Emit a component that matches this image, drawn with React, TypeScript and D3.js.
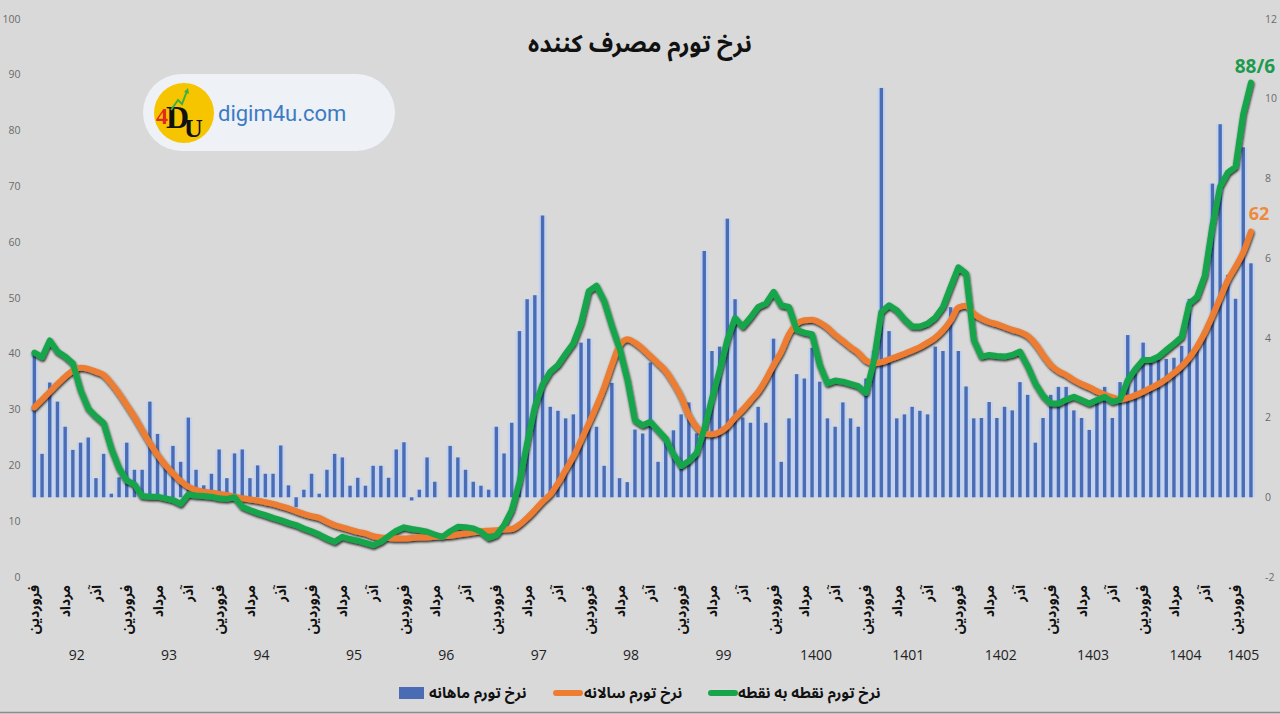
import * as d3 from 'd3';

// Monthly CPI inflation (%), right axis
const monthly = [
  3.6, 1.09, 2.88, 2.4, 1.77, 1.19, 1.37, 1.5, 0.48, 1.09, 0.09, 0.5,
  1.37, 0.69, 0.69, 2.4, 1.59, 0.8, 1.29, 0.89, 2.0, 0.69, 0.3, 0.59,
  1.2, 0.48, 1.1, 1.2, 0.48, 0.8, 0.59, 0.59, 1.3, 0.3, -0.25, 0.19,
  0.59, 0.09, 0.69, 1.09, 1.0, 0.29, 0.49, 0.29, 0.79, 0.79, 0.49, 1.2,
  1.38, -0.08, 0.19, 1.0, 0.39, 0.0, 1.29, 1.0, 0.69, 0.39, 0.29, 0.19,
  1.77, 1.1, 1.87, 4.17, 4.97, 5.07, 7.07, 2.27, 2.17, 1.98, 2.08, 3.88,
  3.98, 1.77, 0.79, 2.87, 0.48, 0.38, 1.7, 1.6, 3.38, 0.89, 1.5, 1.68,
  2.08, 2.38, 1.6, 6.18, 3.67, 3.78, 6.99, 4.97, 2.0, 1.87, 2.27, 1.87,
  3.98, 0.89, 1.98, 3.09, 2.98, 3.75, 2.9, 1.98, 1.77, 2.38, 1.98, 1.77,
  2.98, 3.67, 10.27, 4.17, 1.98, 2.08, 2.27, 2.17, 2.08, 3.78, 3.67, 4.77,
  3.67, 2.78, 1.98, 1.99, 2.39, 1.99, 2.27, 2.18, 2.89, 2.57, 1.37, 1.99,
  2.57, 2.77, 2.77, 2.18, 1.99, 1.69, 2.4, 2.77, 1.99, 2.89, 4.07, 3.1,
  3.88, 3.4, 3.45, 3.47, 3.5, 3.8, 4.98, 3.7, 4.18, 7.87, 9.36, 5.58,
  4.98, 8.78, 5.87,
];

// Annual inflation (%), left axis
const annual = [
  30.4, 31.8, 33.2, 34.6, 35.9, 37.0, 37.5, 37.3, 36.8, 36.2, 34.7, 32.9,
  30.8, 28.7, 26.3, 24.0, 21.9, 20.1, 18.6, 17.2, 16.2, 15.6, 15.3, 15.1,
  14.9, 14.7, 14.4, 14.1, 13.9, 13.7, 13.4, 13.1, 12.7, 12.3, 11.8, 11.3,
  10.9, 10.6, 9.9, 9.3, 8.9, 8.5, 8.1, 7.8, 7.3, 7.1, 7.0, 6.9,
  6.9, 7.0, 7.1, 7.1, 7.2, 7.3, 7.4, 7.6, 7.8, 8.0, 8.2, 8.3,
  8.4, 8.5, 8.6, 9.4, 10.6, 12.0, 13.5, 14.8, 16.8, 19.2, 21.6, 24.5,
  27.5, 30.6, 34.0, 38.0, 41.5, 42.6, 42.0, 40.9, 39.6, 38.3, 36.9, 34.8,
  32.3, 29.0, 26.9, 25.7, 25.6, 26.0, 27.0, 28.6, 30.0, 31.6, 33.2, 35.4,
  38.0, 40.4, 43.5, 45.4, 46.0, 46.1, 45.6, 44.7, 43.4, 42.3, 41.2, 40.2,
  38.8, 38.3, 38.5, 39.0, 39.5, 40.0, 40.6, 41.2, 42.0, 42.9, 44.2, 46.0,
  48.3, 48.6, 47.2, 46.3, 45.7, 45.3, 44.8, 44.3, 43.9, 43.2, 41.8, 39.8,
  38.0, 36.9, 36.2, 35.3, 34.6, 34.0, 33.3, 32.7, 32.2, 31.8, 32.1, 32.6,
  33.2, 33.9, 34.6, 35.5, 36.6, 37.8, 39.3, 41.3, 43.8, 46.8, 50.0, 53.2,
  55.6, 58.2, 61.9,
];

// Point-to-point inflation (%), left axis
const pointToPoint = [
  40.2, 39.4, 42.4, 40.4, 39.5, 38.3, 33.5, 30.2, 28.8, 27.6, 23.0, 19.5,
  17.3, 16.6, 14.5, 14.4, 14.4, 14.1, 13.8, 13.1, 14.8, 14.6, 14.5, 14.4,
  14.1, 14.0, 14.3, 12.6, 12.0, 11.5, 11.1, 10.6, 10.2, 9.7, 9.3, 8.7,
  8.2, 7.6, 6.9, 6.3, 7.2, 6.8, 6.5, 6.1, 5.7, 6.3, 7.3, 8.3,
  8.9, 8.6, 8.4, 8.1, 7.6, 7.2, 8.2, 9.0, 8.9, 8.7, 8.1, 7.0,
  7.5, 9.3, 12.0, 17.0, 24.0, 30.5, 34.5, 36.8, 38.0, 40.0, 41.9, 45.5,
  51.2, 52.2, 49.5, 45.0, 41.0, 35.5, 28.1, 27.2, 27.8, 26.3, 24.8, 22.0,
  19.9, 20.8, 22.2, 26.5, 32.0, 37.0, 42.5, 46.4, 44.9, 46.5, 48.4, 49.0,
  51.1, 48.7, 48.4, 44.3, 43.8, 43.5, 38.0, 34.7, 35.2, 35.0, 34.6, 34.2,
  33.0, 38.5, 47.5, 48.7, 47.8, 46.2, 44.9, 44.9, 45.4, 46.5, 48.4, 52.0,
  55.5, 54.4, 42.5, 39.5, 39.8, 39.6, 39.5, 39.8, 40.4, 37.8, 34.7, 32.5,
  31.1, 31.1, 31.8, 32.3, 31.7, 31.1, 31.7, 32.3, 31.4, 31.8, 35.3, 37.3,
  38.9, 38.9, 39.5, 40.7, 41.8, 43.0, 49.0, 50.2, 54.0, 63.0, 70.0, 72.5,
  73.5, 83.0, 88.6,
];

const yearLabels = ['92', '93', '94', '95', '96', '97', '98', '99', '1400', '1401', '1402', '1403', '1404', '1405'];
const monthLabels: Record<number, string> = { 0: 'فروردین', 4: 'مرداد', 8: 'آذر' };
const leftTicks = d3.range(0, 101, 10);
const rightTicks = d3.range(-2, 13, 2);

const title = 'نرخ تورم مصرف کننده';
const legendItems = [
  { label: 'نرخ تورم ماهانه', kind: 'bar' },
  { label: 'نرخ تورم سالانه', kind: 'annual' },
  { label: 'نرخ تورم نقطه به نقطه', kind: 'p2p' },
];

const W = 1280, H = 714;
const BLUE = '#4a6cb4', BLUE_LIGHT = '#c4d3ee', ORANGE = '#ed7d31', GREEN = '#17a54b';
const FA = "'Noto Sans Arabic', 'DejaVu Sans', sans-serif";
const NUM = "'Open Sans', 'Noto Sans', sans-serif";

export default function App() {
  const x = d3.scaleBand<number>().domain(d3.range(monthly.length)).range([30.5, 1254.8]).padding(0);
  const bw = x.bandwidth();
  const cx = (i: number) => (x(i) as number) + bw / 2;
  const yL = d3.scaleLinear().domain([0, 100]).range([577, 19]);
  const yR = d3.scaleLinear().domain([-2, 12]).range([577, 19]);

  const annualLine = d3.line<number>().x((_, i) => cx(i)).y(d => yL(d)).curve(d3.curveMonotoneX);
  const p2pLine = d3.line<number>().x((_, i) => cx(i)).y(d => yL(d)).curve(d3.curveLinear);

  const last = monthly.length - 1;

  return (
    <svg width={W} height={H} viewBox={`0 0 ${W} ${H}`} style={{ position: 'absolute', left: 0, top: 0 }}>
      <defs>
        <filter id="lineShadow" x="-5%" y="-5%" width="110%" height="110%">
          <feDropShadow dx="0.6" dy="1.6" stdDeviation="1.3" floodColor="#000" floodOpacity="0.85" />
        </filter>
      </defs>
      <rect width={W} height={H} fill="#d9d9d9" />

      {/* title */}
      <text x={640} y={52} textAnchor="middle" fontFamily={FA} fontWeight="bold" fontSize={24} fill="#111">{title}</text>

      {/* left axis */}
      {leftTicks.map(t => (
        <text key={'l' + t} x={20.5} y={yL(t)} dy="0.35em" textAnchor="end" fontFamily={NUM} fontSize={10.5} fill="#6b6b6b">{t}</text>
      ))}
      {/* right axis */}
      {rightTicks.map(t => (
        <text key={'r' + t} x={1265} y={yR(t)} dy="0.35em" textAnchor="start" fontFamily={NUM} fontSize={10.5} fill="#6b6b6b">{t}</text>
      ))}

      {/* monthly bars */}
      <g>
        {monthly.map((v, i) => {
          const y0 = yR(0), y1 = yR(v);
          const top = Math.min(y0, y1), h = Math.abs(y1 - y0);
          return (
            <g key={'b' + i}>
              <rect x={x(i)} y={top} width={bw} height={h} fill={BLUE_LIGHT} />
              <rect x={cx(i) - 1.7} y={top} width={3.4} height={h} fill={BLUE} />
            </g>
          );
        })}
      </g>

      {/* lines */}
      <g filter="url(#lineShadow)">
        <path d={annualLine(annual) || ''} fill="none" stroke={ORANGE} strokeWidth={6} strokeLinejoin="round" strokeLinecap="round" />
        <path d={p2pLine(pointToPoint) || ''} fill="none" stroke={GREEN} strokeWidth={6} strokeLinejoin="round" strokeLinecap="round" />
      </g>

      {/* end labels */}
      <text x={cx(last) + 4} y={yL(pointToPoint[last]) - 10} textAnchor="middle" fontFamily={NUM} fontWeight="bold" fontSize={19} fill="#1c9a4e">88/6</text>
      <text x={cx(last) + 8} y={yL(annual[last]) - 12} textAnchor="middle" fontFamily={NUM} fontWeight="bold" fontSize={18} fill="#ee8a3e">{Math.round(annual[last])}</text>

      {/* month labels */}
      {monthly.map((_, i) => {
        const lab = monthLabels[i % 12];
        if (!lab) return null;
        return (
          <text key={'m' + i} transform={`translate(${cx(i) + 5},585) rotate(-90)`} textAnchor="end"
            fontFamily={FA} fontWeight="bold" fontSize={14} fill="#111">{lab}</text>
        );
      })}

      {/* year labels */}
      {yearLabels.map((yl, k) => {
        const idx = d3.range(k * 12, Math.min((k + 1) * 12, monthly.length));
        const mx = d3.mean(idx, cx) as number;
        return (
          <text key={'y' + yl} x={mx} y={660} textAnchor="middle" fontFamily={NUM} fontSize={14} fill="#222">{yl}</text>
        );
      })}

      {/* legend */}
      <g fontFamily={FA} fontWeight="bold" fontSize={15} fill="#111">
        <rect x={399} y={687} width={25} height={12} fill={BLUE} />
        <text x={429} y={698}>{legendItems[0].label}</text>
        <line x1={556} x2={580} y1={693} y2={693} stroke={ORANGE} strokeWidth={6} strokeLinecap="round" />
        <text x={584} y={698}>{legendItems[1].label}</text>
        <line x1={711} x2={735} y1={693} y2={693} stroke={GREEN} strokeWidth={6} strokeLinecap="round" />
        <text x={738} y={698}>{legendItems[2].label}</text>
      </g>
      <line x1={0} x2={W} y1={712.5} y2={712.5} stroke="#8c8c8c" strokeWidth={1.5} />

      {/* logo */}
      <g>
        <rect x={143} y={74} width={252} height={77} rx={38.5} fill="#eef1f6" />
        <circle cx={184} cy={113} r={30} fill="#f6c500" />
        <text x={156} y={124} fontFamily="'Liberation Serif', serif" fontWeight="bold">
          <tspan fontSize={24} fill="#e0281c">4</tspan>
          <tspan dx={-2} dy={4} fontSize={32} fill="#111">D</tspan>
          <tspan dx={-5} dy={9} fontSize={26} fill="#111">U</tspan>
        </text>
        <path d="M171,110 L178,100 L182,104 L187,91" fill="none" stroke="#3cb043" strokeWidth={2} />
        <path d="M184,92 L188,88 L189,94 Z" fill="#3cb043" />
        <text x={218} y={121} fontFamily="'Roboto', 'Open Sans', sans-serif" fontSize={22} fill="#3c7bc4">digim4u.com</text>
      </g>
    </svg>
  );
}
